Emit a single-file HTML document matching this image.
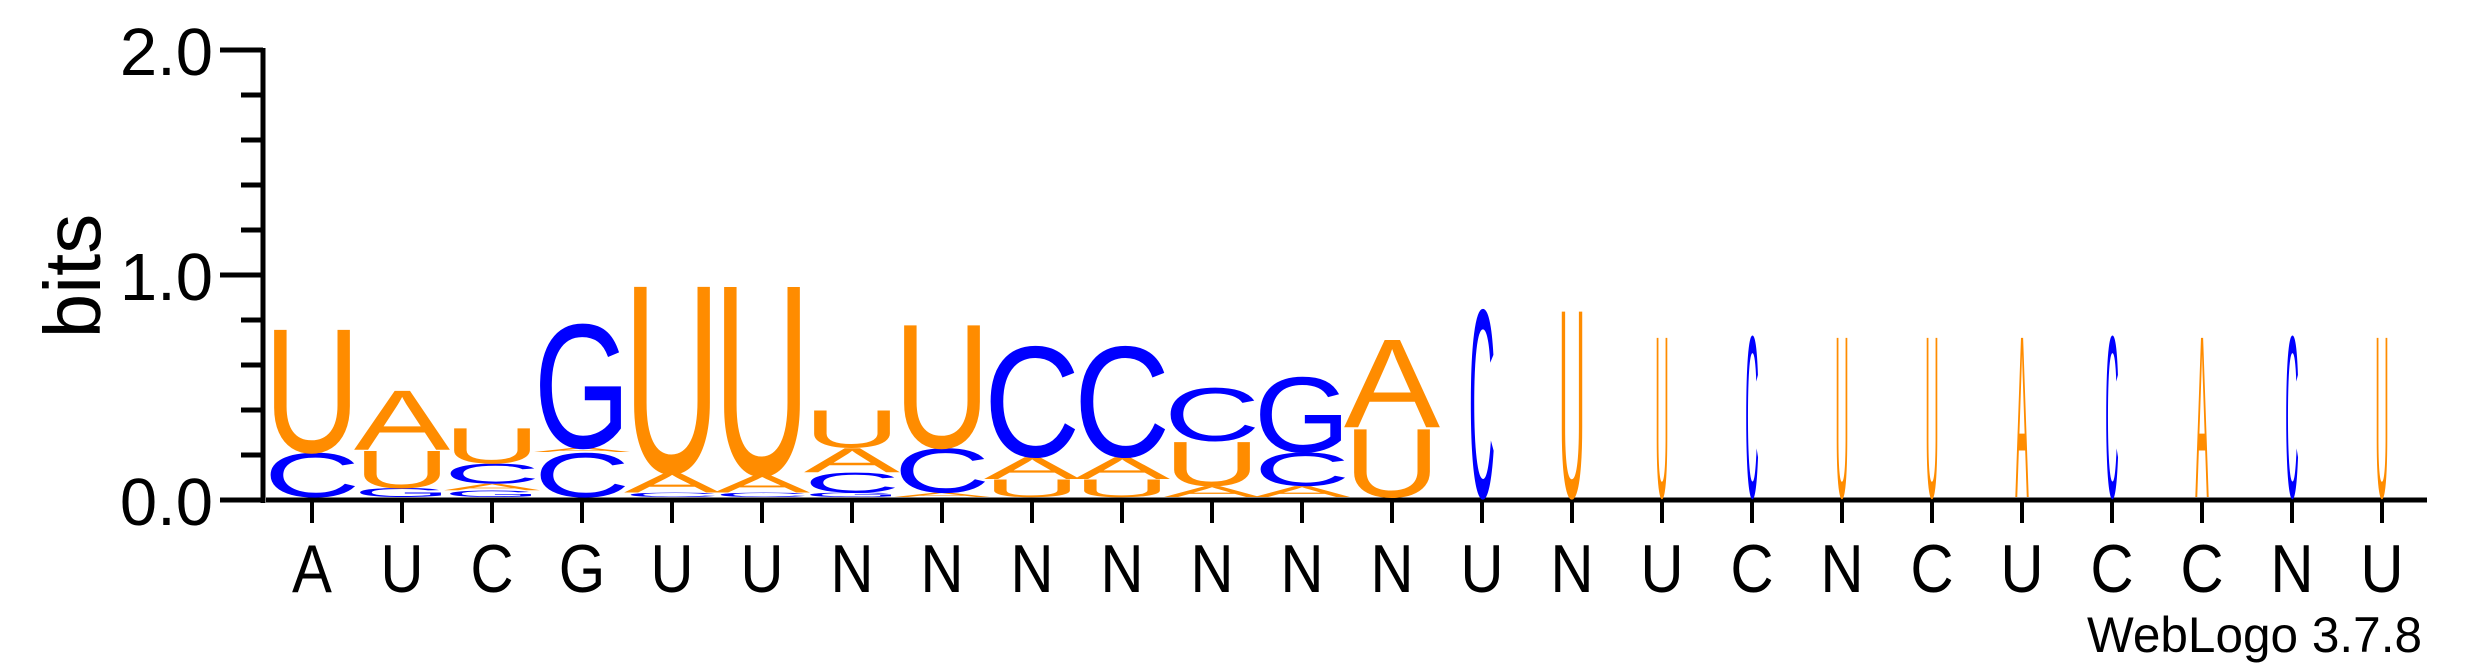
<!DOCTYPE html>
<html><head><meta charset="utf-8"><style>
html,body{margin:0;padding:0;background:#fff;}
svg{display:block;}
text{font-family:"Liberation Sans",sans-serif;}
</style></head><body>
<svg id="chart" width="2475" height="667" viewBox="0 0 2475 667" xmlns="http://www.w3.org/2000/svg">
<g id="axes"></g>
<g id="stacks"></g>
<text transform="translate(100,276) rotate(-90)" text-anchor="middle" font-size="80">bits</text>
<text x="2422" y="652" text-anchor="end" font-size="50" textLength="335" lengthAdjust="spacingAndGlyphs">WebLogo 3.7.8</text>
</svg>
<script>
const posLabels = ["A","U","C","G","U","U","N","N","N","N","N","N","N","U","N","U","C","N","C","U","C","C","N","U"];
const colLetters = ["CU","GUA","GACU","CAG","CAU","CAU","GCAU","ACU","UAC","UAC","AUC","ACG","UA","C","U","U","C","U","U","A","C","A","C","U"];
const colBits = [[0.20,0.56],[0.04,0.17,0.27],[0.03,0.03,0.09,0.16],[0.20,0.02,0.56],[0.02,0.09,0.85],[0.02,0.08,0.86],[0.02,0.09,0.11,0.17],[0.02,0.20,0.56],[0.08,0.10,0.50],[0.08,0.10,0.50],[0.05,0.20,0.24],[0.05,0.15,0.34],[0.31,0.40],[0.85],[0.85],[0.73],[0.73],[0.73],[0.73],[0.73],[0.73],[0.73],[0.73],[0.73]];
const colWeight = [1,1,1,1,1,1,1,1,1,1,1,1,1,0.27,0.27,0.14,0.14,0.14,0.14,0.14,0.14,0.14,0.14,0.14];
const yTicks = ["0.0","1.0","2.0"];

const NS = "http://www.w3.org/2000/svg";
const X0 = 312, DX = 90, Y0 = 500, PXBIT = 225, FULLW = 86;
const xPos = i => X0 + i * DX;
const yPos = v => Y0 - v * PXBIT;
const colors = {A:"#FF8C00",U:"#FF8C00",C:"#0000FF",G:"#0000FF"};
function mk(tag, attrs, parent){const e=document.createElementNS(NS,tag);for(const k in attrs)e.setAttribute(k,attrs[k]);parent.appendChild(e);return e;}

const axes = document.getElementById('axes');
let yl = mk('line',{x1:263,y1:yPos(2)-2,x2:263,y2:Y0+3,stroke:'#000','stroke-width':5},axes);


let xl = mk('line',{x1:266,y1:Y0,x2:2427,y2:Y0,stroke:'#000','stroke-width':5},axes);


for(let k=0;k<=10;k++){
  const v=k*0.2, major=(k%5===0);
  const t=mk('line',{x1:major?220:241,y1:yPos(v),x2:263,y2:yPos(v),stroke:'#000','stroke-width':5},axes);
  
  
}
yTicks.forEach(s=>{
  const v=parseFloat(s);
  const t=mk('text',{x:213,y:yPos(v)+25,'text-anchor':'end','font-size':67},axes);
  t.textContent=s;
  
  
});
posLabels.forEach((s,i)=>{
  const t=mk('line',{x1:xPos(i),y1:Y0,x2:xPos(i),y2:523,stroke:'#000','stroke-width':4},axes);
  
  
  const l=mk('text',{transform:`translate(${xPos(i)},592) scale(0.88,1)`,'text-anchor':'middle','font-size':68},axes);
  l.textContent=s;
  
  
});

const stacks=document.getElementById('stacks');
colLetters.forEach((letters,i)=>{
  let base=0;
  const w=FULLW*colWeight[i];
  for(let j=0;j<letters.length;j++){
    const ch=letters[j], b=colBits[i][j];
    const h=b*PXBIT;
    if(h<=0.5){base+=b;continue;}
    const yb=yPos(base)-3;
    const t=mk('text',{transform:`translate(${xPos(i)},${yb}) scale(1,${h/71})`,'text-anchor':'middle','font-size':100,fill:colors[ch],textLength:w*1.12,lengthAdjust:'spacingAndGlyphs'},stacks);
    t.textContent=ch;
    
    
    base+=b;
  }
});
</script>
</body></html>
